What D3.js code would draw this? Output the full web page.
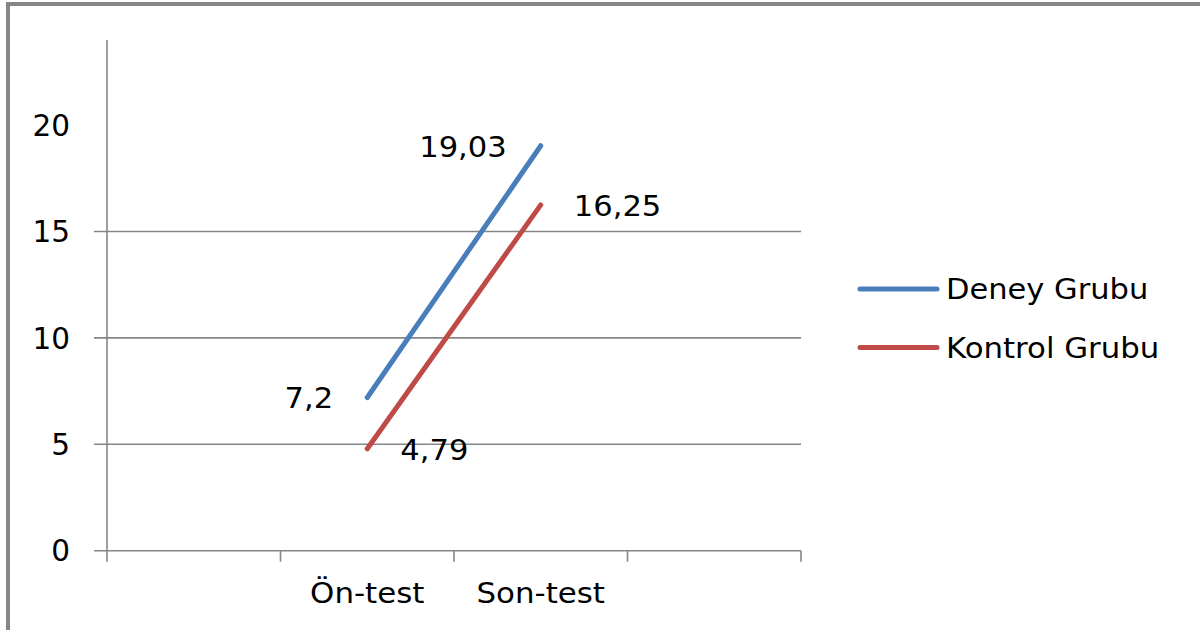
<!DOCTYPE html>
<html>
<head>
<meta charset="utf-8">
<script src="https://cdn.jsdelivr.net/npm/d3@7/dist/d3.min.js"></script>
<style>
  html, body { margin: 0; padding: 0; background: #fff; }
  svg { display: block; }
  text { font-family: "DejaVu Sans", sans-serif; fill: #000; }
</style>
</head>
<body>
<svg id="chart" width="1200" height="630"></svg>
<script>
// Category slots along the x axis (outer two are empty)
const categories = ["", "Ön-test", "Son-test", " "];
// Series
const seriesNames = ["Deney Grubu", "Kontrol Grubu"];
const deneyValues = [7.2, 19.03];
const kontrolValues = [4.79, 16.25];
const valueLabels = [["7,2", "19,03"], ["4,79", "16,25"]];
// Y axis
const yTickValues = [0, 5, 10, 15, 20];
const gridValues = [0, 5, 10, 15];
const yMax = 24;

const colors = ["#4a7ebb", "#be4b48"];
const axisColor = "#868686";

const svg = d3.select("#chart");

// Outer frame (top and left edges visible)
svg.append("path")
  .attr("d", "M8,632 L8,4 L1202,4")
  .attr("fill", "none")
  .attr("stroke", axisColor)
  .attr("stroke-width", 4);

const plot = { left: 107, right: 801, top: 40, bottom: 550.7 };

const x = d3.scaleBand()
  .domain(categories)
  .range([plot.left, plot.right])
  .padding(0);

const y = d3.scaleLinear()
  .domain([0, yMax])
  .range([plot.bottom, plot.top]);

// Places a text at (tx, ty) with a slight horizontal stretch
function stretchedText(sel, tx, ty, sx) {
  return sel.attr("transform", `translate(${tx},${ty}) scale(${sx},1)`);
}

// Horizontal gridlines with tick stubs left of the axis
svg.append("g")
  .selectAll("line")
  .data(gridValues)
  .join("line")
  .attr("x1", plot.left - 13)
  .attr("x2", plot.right)
  .attr("y1", d => y(d))
  .attr("y2", d => y(d))
  .attr("stroke", axisColor)
  .attr("stroke-width", 1.6);

// Vertical axis line
svg.append("line")
  .attr("x1", plot.left).attr("x2", plot.left)
  .attr("y1", plot.top).attr("y2", plot.bottom)
  .attr("stroke", axisColor)
  .attr("stroke-width", 1.6);

// Y tick labels
svg.append("g")
  .selectAll("text")
  .data(yTickValues)
  .join("text")
  .attr("x", 70)
  .attr("y", d => y(d))
  .attr("dy", "0.36em")
  .attr("text-anchor", "end")
  .attr("font-size", 29.5)
  .text(d => d);

// X tick marks at slot boundaries
const boundaries = categories.map(c => x(c)).concat([plot.right]);
svg.append("g")
  .selectAll("line")
  .data(boundaries)
  .join("line")
  .attr("x1", d => d).attr("x2", d => d)
  .attr("y1", plot.bottom).attr("y2", plot.bottom + 11)
  .attr("stroke", axisColor)
  .attr("stroke-width", 1.6);

// X category labels
svg.append("g")
  .selectAll("text")
  .data(categories.filter(c => c.trim() !== ""))
  .join("text")
  .each(function (d) {
    stretchedText(d3.select(this), x(d) + x.bandwidth() / 2, 603, 1.065);
  })
  .attr("text-anchor", "middle")
  .attr("font-size", 29)
  .text(d => d);

// Series lines
const pointCats = ["Ön-test", "Son-test"];
const seriesData = [deneyValues, kontrolValues];
const cx = c => x(c) + x.bandwidth() / 2;

const line = d3.line()
  .x((d, i) => cx(pointCats[i]))
  .y(d => y(d));

svg.append("g")
  .selectAll("path")
  .data(seriesData)
  .join("path")
  .attr("d", d => line(d))
  .attr("fill", "none")
  .attr("stroke", (d, i) => colors[i])
  .attr("stroke-width", 5)
  .attr("stroke-linecap", "round");

// Value labels: Deney to the left of its points, Kontrol to the right
seriesData.forEach((vals, s) => {
  vals.forEach((v, i) => {
    const px = cx(pointCats[i]);
    const py = y(v);
    const left = s === 0;
    const t = svg.append("text")
      .attr("text-anchor", left ? "end" : "start")
      .attr("font-size", 29)
      .text(valueLabels[s][i]);
    stretchedText(t, left ? px - 34 : px + 33, py + 11, 1.055);
  });
});

// Legend
const legend = svg.append("g");
seriesNames.forEach((name, i) => {
  const ly = 289 + i * 58.5;
  legend.append("line")
    .attr("x1", 860).attr("x2", 937)
    .attr("y1", ly).attr("y2", ly)
    .attr("stroke", colors[i])
    .attr("stroke-width", 5)
    .attr("stroke-linecap", "round");
  const t = legend.append("text")
    .attr("dy", "0.36em")
    .attr("font-size", 28)
    .text(name);
  stretchedText(t, 946, ly, i === 0 ? 1.09 : 1.1);
});
</script>
</body>
</html>
